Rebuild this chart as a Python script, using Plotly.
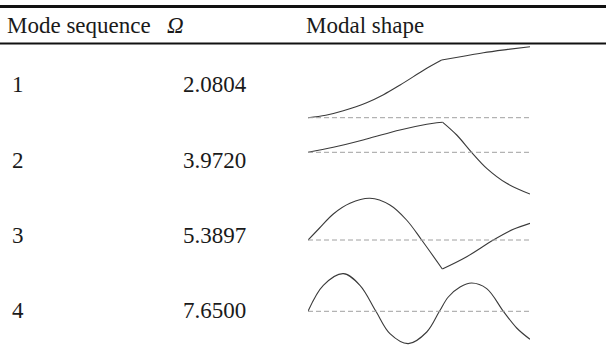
import plotly.graph_objects as go

W, H = 606, 347

# ---------------- table data ----------------
header = ["Mode sequence", "Ω", "Modal shape"]
mode_seq = ["1", "2", "3", "4"]
omega = ["2.0804", "3.9720", "5.3897", "7.6500"]

# ---------------- modal shapes (position along member 0..1, amplitude) ----------------
# segments split at the junction (~0.6) where the shape has a kink
m1_left_x = [0, 0.08, 0.159, 0.264, 0.34, 0.415, 0.535, 0.602]
m1_left_y = [0, 2.5, 7, 15, 23, 32.7, 49.4, 57.7]
m1_right_x = [0.602, 0.7, 0.79, 0.9, 1.0]
m1_right_y = [57.7, 61.5, 65, 68.3, 71]

m2_left_x = [0, 0.114, 0.264, 0.414, 0.535, 0.58, 0.607]
m2_left_y = [0, 5, 13.3, 22.3, 28, 29.5, 30]
m2_right_x = [0.607, 0.67, 0.737, 0.805, 0.895, 1.0]
m2_right_y = [30, 17.3, 0, -16, -31, -41.7]

m3_left_x = [0, 0.05, 0.114, 0.189, 0.279, 0.369, 0.444, 0.512, 0.605]
m3_left_y = [0, 11.5, 26, 36.7, 41.7, 35, 20, 0, -29]
m3_right_x = [0.605, 0.715, 0.835, 0.925, 1.0]
m3_right_y = [-29, -16.7, 0, 10.7, 16.7]

m4_x = [0, 0.069, 0.159, 0.234, 0.306, 0.369, 0.452, 0.535, 0.592, 0.632,
        0.685, 0.737, 0.805, 0.88, 0.94, 1.0]
m4_y = [0, 26, 37.7, 26, 0, -22.3, -32.3, -20.7, 0, 14.3,
        24.3, 28.3, 22.7, 0, -16.7, -28]

shapes_data = [
    [(m1_left_x, m1_left_y), (m1_right_x, m1_right_y)],
    [(m2_left_x, m2_left_y), (m2_right_x, m2_right_y)],
    [(m3_left_x, m3_left_y), (m3_right_x, m3_right_y)],
    [(m4_x, m4_y)],
]

# ---------------- layout constants (pixels) ----------------
FONT = "Liberation Serif, Times New Roman, serif"
TXT = "#1a1a1a"
CURVE = "#3a3a3a"
DASH = "#a0a0a0"
baseline_px = [117.7, 152.3, 240.0, 311.3]
down_px = [45, 45, 45, 35]
up_px = 75
x_left_px, x_right_px = 308, 530
row_px = [84, 160, 235, 310]
header_px = 25.5
col_px = [10, 181, 306]
header_col_px = [5, 165, 304]


def py(p):
    return 1 - p / H


fig = go.Figure()
layout_axes = {}
shapes = []
for k, segs in enumerate(shapes_data):
    sfx = "" if k == 0 else str(k + 1)
    xa, ya = "x" + sfx, "y" + sfx
    for sx, sy in segs:
        fig.add_trace(go.Scatter(
            x=sx, y=sy, mode="lines", xaxis=xa, yaxis=ya,
            line=dict(color=CURVE, width=1.1, shape="spline", smoothing=1.0),
            hoverinfo="skip", showlegend=False))
    b = baseline_px[k]
    layout_axes["xaxis" + sfx] = dict(
        domain=[x_left_px / W, x_right_px / W], range=[0, 1],
        visible=False, anchor=ya, fixedrange=True)
    layout_axes["yaxis" + sfx] = dict(
        domain=[py(b + down_px[k]), py(b - up_px)], range=[-down_px[k], up_px],
        visible=False, anchor=xa, fixedrange=True)
    shapes.append(dict(type="line", xref=xa, yref=ya, x0=0, x1=1, y0=0, y1=0,
                       line=dict(color=DASH, width=1, dash="5px,3px")))

# table rules
shapes.append(dict(type="line", xref="paper", yref="paper", x0=0, x1=1,
                   y0=py(6.5), y1=py(6.5), line=dict(color="#111", width=3)))
shapes.append(dict(type="line", xref="paper", yref="paper", x0=0, x1=1,
                   y0=py(43.5), y1=py(43.5), line=dict(color="#111", width=2)))

annotations = []
for i, h in enumerate(header):
    txt = f"<i>{h}</i>" if h == "Ω" else h
    annotations.append(dict(text=txt, x=header_col_px[i] / W, y=py(header_px),
                            xref="paper", yref="paper", xanchor="left", yanchor="middle",
                            showarrow=False, font=dict(family=FONT, size=23, color=TXT)))
for r in range(len(mode_seq)):
    annotations.append(dict(text=mode_seq[r], x=col_px[0] / W, y=py(row_px[r]),
                            xref="paper", yref="paper", xanchor="left", yanchor="middle",
                            showarrow=False, font=dict(family=FONT, size=23, color=TXT)))
    annotations.append(dict(text=omega[r], x=col_px[1] / W, y=py(row_px[r]),
                            xref="paper", yref="paper", xanchor="left", yanchor="middle",
                            showarrow=False, font=dict(family=FONT, size=23, color=TXT)))

fig.update_layout(
    width=W, height=H, margin=dict(l=0, r=0, t=0, b=0),
    paper_bgcolor="white", plot_bgcolor="rgba(0,0,0,0)",
    shapes=shapes, annotations=annotations, showlegend=False,
    **layout_axes)

fig.write_html("out.html", config={"displayModeBar": False},
               post_script="document.body.style.margin='0';document.body.style.overflow='hidden';")
